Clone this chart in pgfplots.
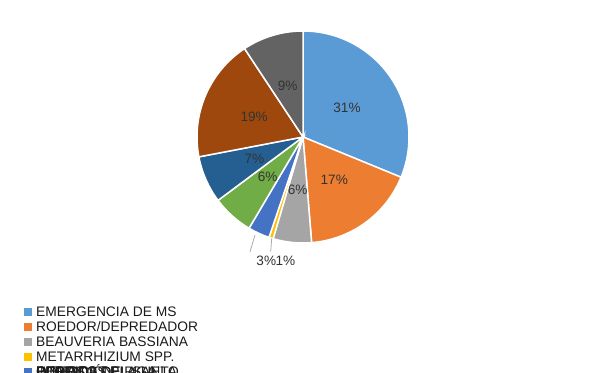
\documentclass[border=0pt]{standalone}
\usepackage{pgfplots}
\pgfplotsset{compat=1.18}
\usepackage{fontspec}
\setmainfont{Liberation Sans}
\definecolor{c1}{HTML}{5B9BD5}
\definecolor{c2}{HTML}{ED7D31}
\definecolor{c3}{HTML}{A5A5A5}
\definecolor{c4}{HTML}{FFC000}
\definecolor{c5}{HTML}{4472C4}
\definecolor{c6}{HTML}{70AD47}
\definecolor{c7}{HTML}{255E91}
\definecolor{c8}{HTML}{9E480E}
\definecolor{c9}{HTML}{636363}
\definecolor{txt}{HTML}{333333}
\definecolor{legtxt}{HTML}{1A1A1A}
\definecolor{lead}{HTML}{A6A6A6}
\newcommand\lbl{\fontsize{13.6bp}{16bp}\selectfont}
\newcommand\leg{\fontsize{13.8bp}{16bp}\selectfont}
\begin{document}
\begin{tikzpicture}
\begin{axis}[width=600bp,height=373bp,scale only axis,
  xmin=0,xmax=600,ymin=0,ymax=373,hide axis,clip=true]
\gdef\startang{90}
\foreach \v/\c/\lab/\show in {31.2/c1/31/1, 17.5/c2/17/1, 5.85/c3/6/1, 0.65/c4/1/0, 3.3/c5/3/0, 6.3/c6/6/1, 7.2/c7/7/1, 18.7/c8/19/1, 9.3/c9/9/1}{
  \pgfmathsetmacro{\endang}{\startang-3.6*\v}
  \pgfmathsetmacro{\midang}{(\startang+\endang)/2}
  \pgfmathsetmacro{\lx}{303+53*cos(\midang)}
  \pgfmathsetmacro{\ly}{236+53*sin(\midang)}
  \edef\temp{\noexpand\fill[\c,draw=white,line width=1.5bp] (axis cs:303,236) -- ++(\startang:106bp) arc[start angle=\startang,end angle=\endang,radius=106bp] -- cycle;}
  \temp
  \ifnum\show=1
    \edef\temp{\noexpand\node[text=txt,font=\noexpand\lbl,inner sep=0pt] at (axis cs:\lx,\ly) {\lab\noexpand\%};}
    \temp
  \fi
  \xdef\startang{\endang}
}
% outside labels with leader lines
\draw[lead,line width=0.75bp] (axis cs:255,138) -- (axis cs:250,121.3);
\draw[lead,line width=0.75bp] (axis cs:271.7,134.7) -- (axis cs:270.7,121.3);
\node[text=txt,font=\lbl,inner sep=0pt] at (axis cs:266.3,112) {3\%};
\node[text=txt,font=\lbl,inner sep=0pt] at (axis cs:285.5,112) {1\%};
% legend (last row entries overlap, first of them drawn on top)
\foreach \yy/\c/\name in {61.3/c1/{EMERGENCIA DE MS}, 46.3/c2/{ROEDOR/DEPREDADOR}, 31.3/c3/{BEAUVERIA BASSIANA}, 16.3/c4/{METARRHIZIUM SPP.}, 1.3/c9/{OTROS}, 1.3/c8/{PERDIDA DE PLANTA}, 1.3/c7/{HONGOS DEL SUELO}, 1.3/c6/{INSECTOS PLAGA}, 1.3/c5/{PUDRICIÓN}}{
  \pgfmathsetmacro{\yb}{\yy-4.9}
  \pgfmathsetmacro{\ya}{\yy-4}
  \pgfmathsetmacro{\yc}{\yy+4}
  \edef\temp{\noexpand\fill[\c] (axis cs:24,\ya) rectangle (axis cs:32,\yc);
    \noexpand\node[anchor=base west,text=legtxt,font=\noexpand\leg,inner sep=0pt] at (axis cs:36,\yb) {\name};}
  \temp
}
\end{axis}
\pgfresetboundingbox
\useasboundingbox (0,0) rectangle (600bp,373bp);
\end{tikzpicture}
\end{document}
